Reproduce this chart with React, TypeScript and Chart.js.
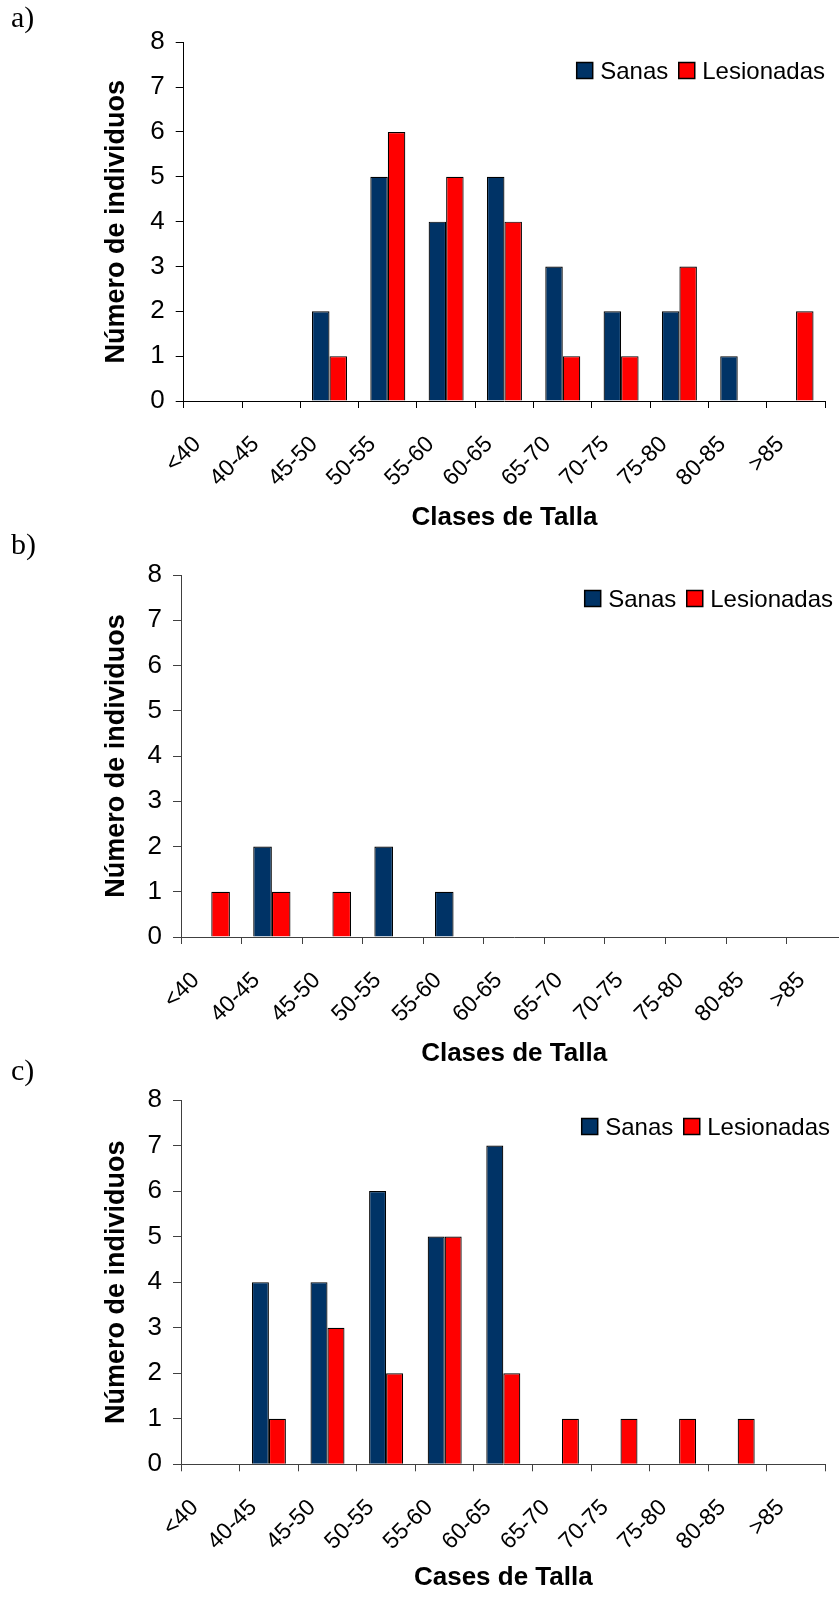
import React, { useEffect, useRef } from 'react';
import { Chart, registerables } from 'chart.js';

Chart.register(...registerables);

// Size classes (cm) shared by the three histograms
const sizeClasses = ['<40', '40-45', '45-50', '50-55', '55-60', '60-65', '65-70', '70-75', '75-80', '80-85', '>85'];

// a) counts per size class
const sanasA = [0, 0, 2, 5, 4, 5, 3, 2, 2, 1, 0];
const lesionadasA = [0, 0, 1, 6, 5, 4, 1, 1, 3, 0, 2];

// b) counts per size class
const sanasB = [0, 2, 0, 2, 1, 0, 0, 0, 0, 0, 0];
const lesionadasB = [1, 1, 1, 0, 0, 0, 0, 0, 0, 0, 0];

// c) counts per size class
const sanasC = [0, 4, 4, 6, 5, 7, 0, 0, 0, 0, 0];
const lesionadasC = [0, 1, 3, 2, 5, 2, 1, 1, 1, 1, 0];

const seriesNames = ['Sanas', 'Lesionadas'];
const seriesColors = ['#003366', '#ff0000'];

const yMin = 0;
const yMax = 8;
const yStep = 1;

const yTitle = 'Número de individuos';

const SANS = '"Liberation Sans", Arial, Helvetica, sans-serif';
const SERIF = '"Liberation Serif", "Times New Roman", Times, serif';

type PanelSpec = {
  tag: string;
  sanas: number[];
  lesionadas: number[];
  xTitle: string;
  top: number;
  width: number;
  height: number;
  pad: { left: number; top: number; right: number; bottom: number };
  yAxisWidth: number;
  xAxisHeight: number;
  groupFraction: number;
  axisColor: string;
  legendX: number;
  legendBaseline: number;
  tagBaseline: number;
};

const panels: PanelSpec[] = [
  {
    tag: 'a)',
    sanas: sanasA,
    lesionadas: lesionadasA,
    xTitle: 'Clases de Talla',
    top: 0,
    width: 839,
    height: 540,
    pad: { left: 100.5, top: 42.3, right: 9.7, bottom: 6.4 },
    yAxisWidth: 83.2,
    xAxisHeight: 132.6,
    groupFraction: 0.6,
    axisColor: '#000000',
    legendX: 576.7,
    legendBaseline: 78.5,
    tagBaseline: 26.5,
  },
  {
    tag: 'b)',
    sanas: sanasB,
    lesionadas: lesionadasB,
    xTitle: 'Clases de Talla',
    top: 530,
    width: 860,
    height: 545,
    pad: { left: 100.8, top: 45, right: 11, bottom: 5.4 },
    yAxisWidth: 80.2,
    xAxisHeight: 132.6,
    groupFraction: 0.615,
    axisColor: '#404040',
    legendX: 584.7,
    legendBaseline: 76.5,
    tagBaseline: 24,
  },
  {
    tag: 'c)',
    sanas: sanasC,
    lesionadas: lesionadasC,
    xTitle: 'Cases de Talla',
    top: 1050,
    width: 839,
    height: 547,
    pad: { left: 100.8, top: 50, right: 4.3, bottom: 3.4 },
    yAxisWidth: 80.2,
    xAxisHeight: 129.3,
    groupFraction: 0.58,
    axisColor: '#404040',
    legendX: 581.7,
    legendBaseline: 84.5,
    tagBaseline: 30,
  },
];

// Draws the panel letter and the boxed legend on top of the chart
function decorPlugin(spec: PanelSpec) {
  return {
    id: 'panelDecor',
    afterDraw(chart: Chart) {
      const ctx = chart.ctx;
      ctx.save();
      ctx.fillStyle = '#000';
      ctx.textBaseline = 'alphabetic';
      ctx.textAlign = 'left';
      ctx.font = `30px ${SERIF}`;
      ctx.fillText(spec.tag, 11, spec.tagBaseline);

      ctx.font = `24px ${SANS}`;
      const box = 16;
      let x = spec.legendX;
      const yb = spec.legendBaseline;
      seriesNames.forEach((name, i) => {
        ctx.fillStyle = seriesColors[i];
        ctx.fillRect(x, yb - box, box, box);
        ctx.lineWidth = 1.5;
        ctx.strokeStyle = '#000';
        ctx.strokeRect(x, yb - box, box, box);
        x += box + 7.5;
        ctx.fillStyle = '#000';
        ctx.fillText(name, x, yb);
        x += ctx.measureText(name).width + 10.5;
      });
      ctx.restore();
    },
  };
}

function Panel({ spec }: { spec: PanelSpec }) {
  const ref = useRef<HTMLCanvasElement | null>(null);

  useEffect(() => {
    const canvas = ref.current;
    if (!canvas) return;
    const chart = new Chart(canvas, {
      type: 'bar',
      data: {
        labels: sizeClasses,
        datasets: [
          {
            label: seriesNames[0],
            data: spec.sanas,
            backgroundColor: seriesColors[0],
            borderColor: '#000',
            borderWidth: 1.2,
            borderSkipped: 'start',
          },
          {
            label: seriesNames[1],
            data: spec.lesionadas,
            backgroundColor: seriesColors[1],
            borderColor: '#000',
            borderWidth: 1.2,
            borderSkipped: 'start',
          },
        ],
      },
      options: {
        responsive: false,
        animation: false,
        devicePixelRatio: 1,
        datasets: {
          bar: {
            categoryPercentage: spec.groupFraction,
            barPercentage: 1,
          },
        },
        layout: { padding: spec.pad },
        plugins: {
          legend: { display: false },
          tooltip: { enabled: false },
          title: { display: false },
        },
        scales: {
          x: {
            type: 'category',
            offset: true,
            grid: {
              offset: true,
              drawOnChartArea: false,
              drawTicks: true,
              tickLength: 7,
              color: spec.axisColor,
              lineWidth: 1,
            },
            border: { display: true, color: spec.axisColor, width: 1 },
            ticks: {
              autoSkip: false,
              minRotation: 45,
              maxRotation: 45,
              padding: 23,
              labelOffset: -15.5,
              color: '#000',
              font: { family: SANS, size: 23 },
            },
            title: {
              display: true,
              text: spec.xTitle,
              color: '#000',
              padding: 0,
              font: { family: SANS, size: 26, weight: 'bold', lineHeight: 1.2 },
            },
            afterFit(scale: any) {
              scale.height = spec.xAxisHeight;
            },
          },
          y: {
            min: yMin,
            max: yMax,
            grid: {
              drawOnChartArea: false,
              drawTicks: true,
              tickLength: 8,
              color: spec.axisColor,
              lineWidth: 1,
            },
            border: { display: true, color: spec.axisColor, width: 1 },
            ticks: {
              stepSize: yStep,
              padding: 11,
              color: '#000',
              font: { family: SANS, size: 26 },
            },
            title: {
              display: true,
              text: yTitle,
              color: '#000',
              padding: 0,
              font: { family: SANS, size: 27, weight: 'bold', lineHeight: 1.2 },
            },
            afterFit(scale: any) {
              scale.width = spec.yAxisWidth;
            },
          },
        },
      },
      plugins: [decorPlugin(spec)],
    } as any);
    return () => chart.destroy();
  }, [spec]);

  return (
    <canvas
      ref={ref}
      width={spec.width}
      height={spec.height}
      style={{
        position: 'absolute',
        left: 0,
        top: spec.top,
        width: spec.width,
        height: spec.height,
      }}
    />
  );
}

export default function App() {
  return (
    <div
      style={{
        position: 'absolute',
        left: 0,
        top: 0,
        width: 839,
        height: 1597,
        overflow: 'hidden',
        background: '#fff',
      }}
    >
      {panels.map((p) => (
        <Panel key={p.tag} spec={p} />
      ))}
    </div>
  );
}
